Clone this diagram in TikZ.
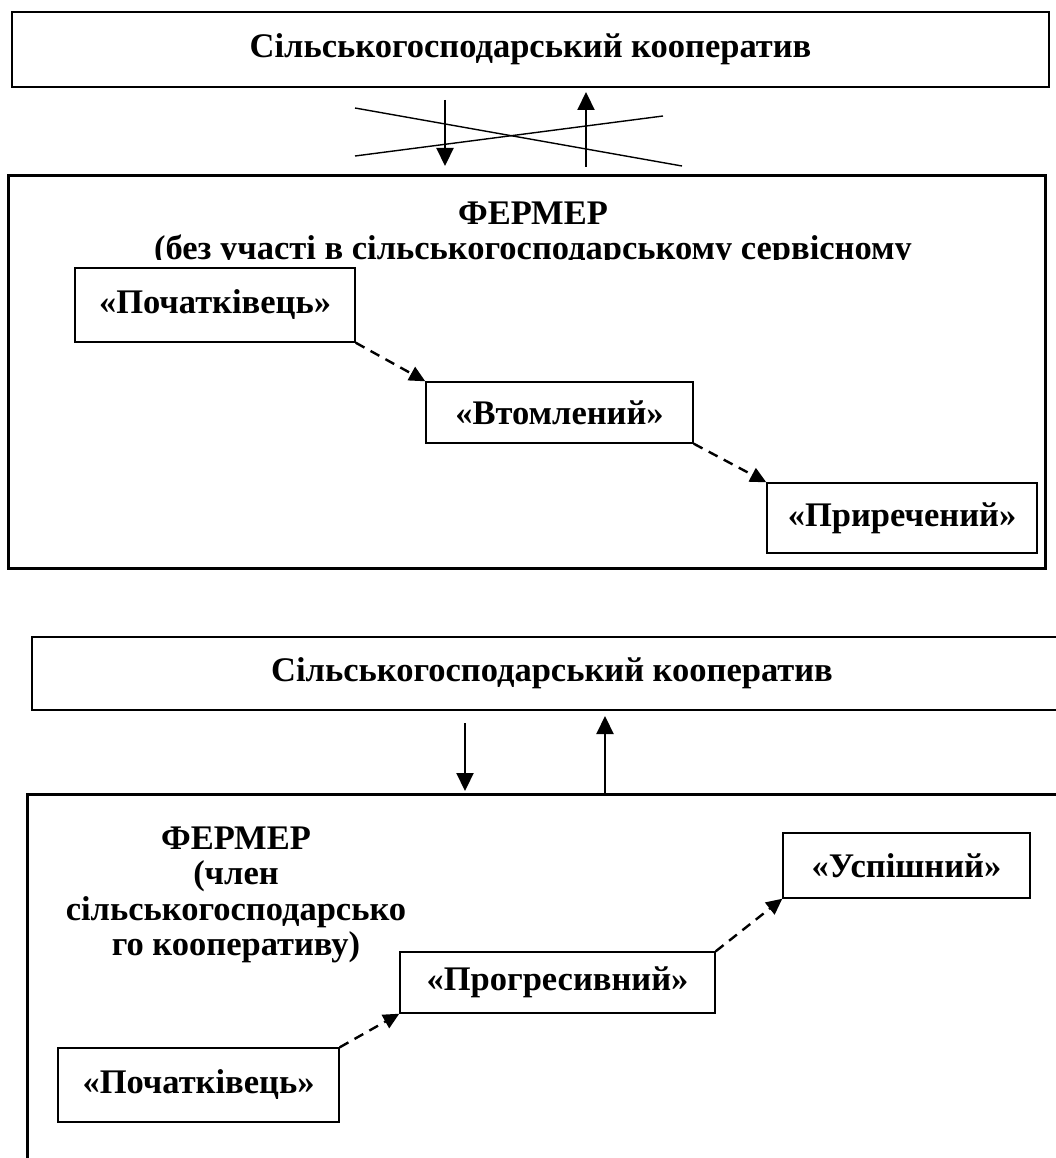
\documentclass[tikz,border=0pt]{standalone}
\usepackage{fontspec}
\setmainfont{Liberation Serif}
\usetikzlibrary{arrows.meta}
\tikzset{
  thinbox/.style={draw, line width=1.4pt, inner sep=0pt, font=\bfseries\fontsize{34.5}{35}\selectfont},
  bigbox/.style={draw, line width=3pt, inner sep=0pt},
  lbl/.style={inner sep=0pt, font=\bfseries\fontsize{34.5}{35.3}\selectfont, align=center},
  solidarrow/.style={line width=2.2pt, -{Triangle[length=18pt,width=17pt]}},
  dasharrow/.style={line width=2.4pt, dash pattern=on 10pt off 7pt, -{Triangle[length=16pt,width=15pt]}},
  crossline/.style={line width=1.4pt}
}
\begin{document}
\begin{tikzpicture}[x=1pt,y=-1pt]
\clip (0,0) rectangle (1056,1158);
\fill[white] (0,0) rectangle (1056,1158);
% ---------- upper part ----------
\node[thinbox, minimum width=1037pt, minimum height=75pt] (coopA) at (530.5,49.5) {Сільськогосподарський кооператив};
\node[bigbox, minimum width=1037pt, minimum height=392pt] (farmA) at (526.5,372) {};
\node[lbl] (farmAt) at (533,213) {ФЕРМЕР};
\begin{scope}
\clip (0,230) rectangle (1056,259);
\node[lbl] (farmAs) at (533,251) {(без участі в сільськогосподарському сервісному};
\end{scope}
\node[thinbox, minimum width=280pt, minimum height=74pt] (pA) at (215,305) {«Початківець»};
\node[thinbox, minimum width=267pt, minimum height=61pt] (vA) at (559.5,412.5) {«Втомлений»};
\node[thinbox, minimum width=270pt, minimum height=70pt] (rA) at (902,518) {«Приречений»};
\draw[dasharrow] (pA.south east) -- (vA.north west);
\draw[dasharrow] (vA.south east) -- (rA.north west);
\coordinate (c1a) at (355,108);
\coordinate (c1b) at (682,166);
\coordinate (c2a) at (355,156);
\coordinate (c2b) at (663,116);
\draw[crossline] (c1a) -- (c1b);
\draw[crossline] (c2a) -- (c2b);
\coordinate (dAs) at (445,100);
\coordinate (dAe) at (445,166);
\coordinate (uAs) at (586,167);
\coordinate (uAe) at (586,92);
\draw[solidarrow] (dAs) -- (dAe);
\draw[solidarrow] (uAs) -- (uAe);
% ---------- lower part ----------
\node[thinbox, minimum width=1040pt, minimum height=73pt] (coopB) at (552,673.5) {Сільськогосподарський кооператив};
\node[bigbox, minimum width=1043pt, minimum height=400pt] (farmB) at (548.5,994) {};
\node[lbl] (farmBt) at (236,895) {ФЕРМЕР\\(член\\сільськогосподарсько\\го кооперативу)};
\node[thinbox, minimum width=281pt, minimum height=74pt] (pB) at (198.5,1085) {«Початківець»};
\node[thinbox, minimum width=315pt, minimum height=61pt] (prB) at (557.5,982.5) {«Прогресивний»};
\node[thinbox, minimum width=247pt, minimum height=65pt] (uB) at (906.5,865.5) {«Успішний»};
\draw[dasharrow] (pB.north east) -- (prB.south west);
\draw[dasharrow] (prB.north east) -- (uB.south west);
\coordinate (dBs) at (465,723);
\coordinate (dBe) at (465,791);
\coordinate (uBs) at (605,793);
\coordinate (uBe) at (605,716);
\draw[solidarrow] (dBs) -- (dBe);
\draw[solidarrow] (uBs) -- (uBe);
\end{tikzpicture}
\end{document}
